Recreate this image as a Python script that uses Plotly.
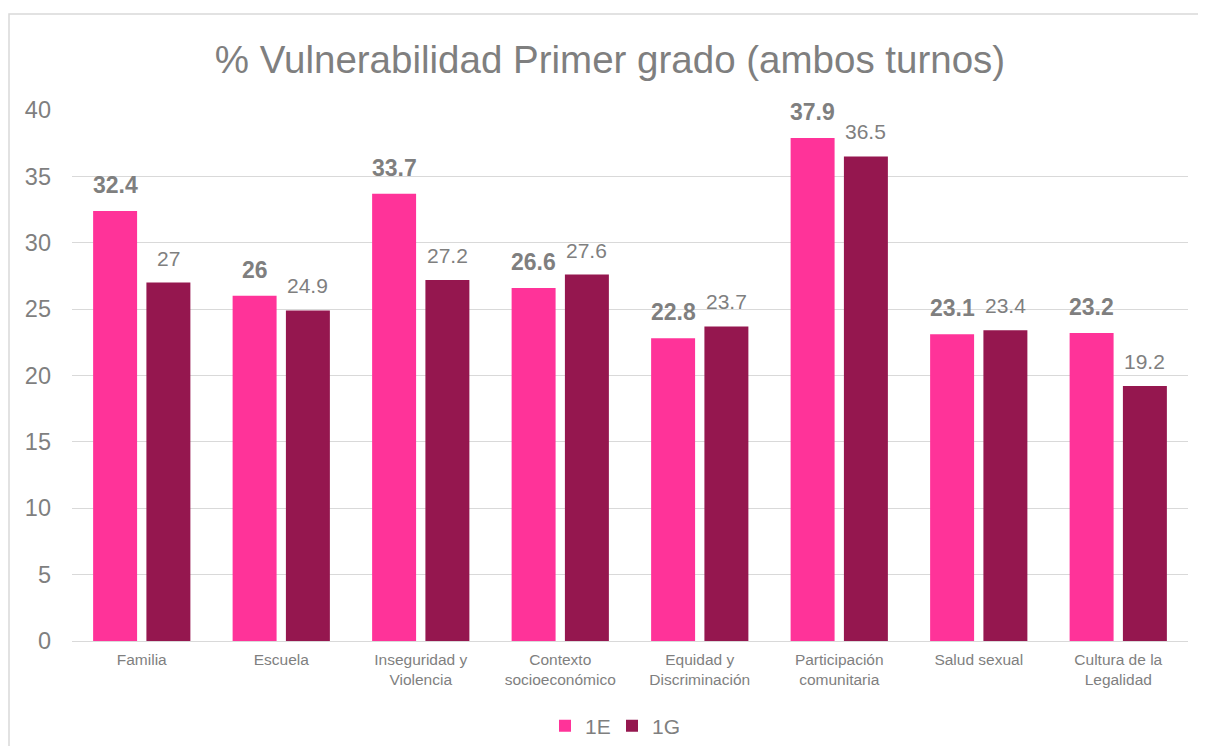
import plotly.graph_objects as go

categories = ["Familia", "Escuela", "Inseguridad y<br>Violencia", "Contexto<br>socioeconómico",
              "Equidad y<br>Discriminación", "Participación<br>comunitaria", "Salud sexual",
              "Cultura de la<br>Legalidad"]
series_1e = [32.4, 26, 33.7, 26.6, 22.8, 37.9, 23.1, 23.2]
series_1g = [27, 24.9, 27.2, 27.6, 23.7, 36.5, 23.4, 19.2]
y_ticks = [0, 5, 10, 15, 20, 25, 30, 35, 40]

C1E = "#FF3399"
C1G = "#95174F"
GRAY = "#7F7F7F"
FONT = "Liberation Sans, Arial, sans-serif"

# page offset of the plotly div (body margin)
OFF = 8
WF, HF = 1190, 738
L, R, T, B = 72 - OFF, WF - (1188 - OFF), 110 - OFF, HF - (641 - OFF)
H = HF - T - B
W = WF - L - R

fig = go.Figure()
fig.add_trace(go.Bar(name="1E", x=categories, y=series_1e, marker=dict(color=C1E, line=dict(width=0))))
fig.add_trace(go.Bar(name="1G", x=categories, y=series_1g, marker=dict(color=C1G, line=dict(width=0))))

annotations = []
for c, v in zip(categories, series_1e):
    annotations.append(dict(x=c, y=v, xref="x", yref="y", text=f"<b>{v:g}</b>", showarrow=False,
                            xanchor="center", yanchor="bottom", xshift=-26.6, yshift=11,
                            font=dict(size=23, color=GRAY, family=FONT)))
for c, v in zip(categories, series_1g):
    annotations.append(dict(x=c, y=v, xref="x", yref="y", text=f"{v:g}", showarrow=False,
                            xanchor="center", yanchor="bottom", xshift=26.6, yshift=11,
                            font=dict(size=21, color=GRAY, family=FONT)))

fig.update_layout(
    width=WF, height=HF,
    margin=dict(l=L, r=R, t=T, b=B, autoexpand=False),
    paper_bgcolor="white", plot_bgcolor="white",
    barmode="group", bargap=0.236, bargroupgap=0.175,
    font=dict(family=FONT, color=GRAY),
    title=dict(text="% Vulnerabilidad Primer grado (ambos turnos)", x=(610 - OFF) / WF, xref="container",
               xanchor="center", y=1 - (60 - OFF) / HF, yanchor="middle",
               font=dict(size=38.5, color=GRAY, family=FONT)),
    xaxis=dict(showgrid=False, showline=True, linecolor="#D9D9D9", linewidth=1,
               tickfont=dict(size=15.5, color=GRAY), ticks="", ticklabelstandoff=4,
               automargin=False),
    yaxis=dict(range=[0, 40], tickvals=y_ticks, showgrid=True, gridcolor="#D9D9D9", gridwidth=1,
               zeroline=False, showline=False, tickfont=dict(size=23.5, color=GRAY),
               ticklabelstandoff=20, automargin=False),
    legend=dict(orientation="h", x=(612 - 72) / W, xanchor="center", y=(641 - 726) / H, yanchor="middle",
                font=dict(size=21, color=GRAY), traceorder="normal", entrywidth=22,
                entrywidthmode="pixels"),
    annotations=annotations,
    shapes=[dict(type="rect", xref="paper", yref="paper",
                 x0=(9 - 72) / W, x1=(1240 - 72) / W, y0=-(B + 30) / H, y1=1 + (110 - 14) / H,
                 line=dict(color="#D9D9D9", width=1.5), fillcolor="rgba(0,0,0,0)", layer="below")],
    showlegend=True,
)

fig.write_html("out.html")
